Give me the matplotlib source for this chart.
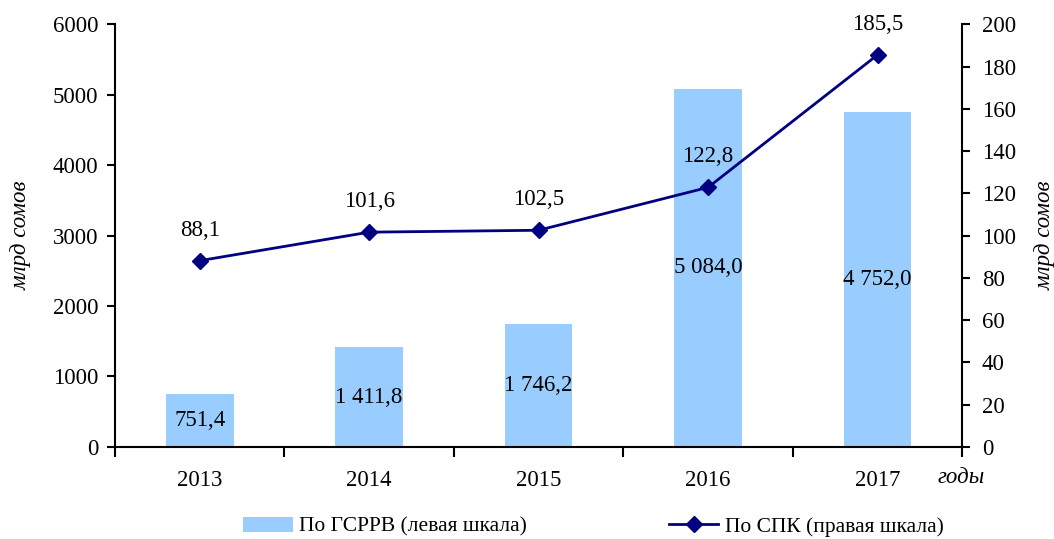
import numpy as np
import matplotlib.pyplot as plt
from matplotlib.ticker import MultipleLocator, FixedLocator

plt.rcParams['font.family'] = ['Liberation Serif', 'DejaVu Serif']

years = ['2013', '2014', '2015', '2016', '2017']
gsrrv = [751.4, 1411.8, 1746.2, 5084.0, 4752.0]   # left scale
spk = [88.1, 101.6, 102.5, 122.8, 185.5]           # right scale


def fmt(v):
    # "1 411,8" style
    s = f"{v:,.1f}".replace(",", " ").replace(".", ",")
    return s


fig = plt.figure(figsize=(10.54, 5.39), dpi=100)
ax = fig.add_axes([0.109, 0.171, 0.804, 0.784])
ax2 = ax.twinx()

x = np.arange(len(years))
fs = 16.5

bars = ax.bar(x, gsrrv, width=0.4, color='#99CCFF', label='По ГСРРВ (левая шкала)', zorder=1)
for xi, v in zip(x, gsrrv):
    ax.text(xi, v / 2, fmt(v), ha='center', va='center', fontsize=fs, color='black', zorder=3)

line, = ax2.plot(x, spk, color='#000080', marker='D', markersize=8, linewidth=2,
                 label='По СПК (правая шкала)', zorder=4)
for xi, v in zip(x, spk):
    ax2.annotate(fmt(v), (xi, v), xytext=(0, 22), textcoords='offset points',
                 ha='center', va='center', fontsize=fs)

ax.set_xlim(-0.5, len(years) - 0.5)
ax.set_ylim(0, 6000)
ax2.set_ylim(0, 200)
ax.yaxis.set_major_locator(MultipleLocator(1000))
ax2.yaxis.set_major_locator(MultipleLocator(20))

ax.set_xticks(x)
ax.set_xticklabels(years)
ax.xaxis.set_minor_locator(FixedLocator(np.arange(-0.5, len(years), 1.0)))
ax.tick_params(axis='x', which='major', length=0, pad=17, labelsize=fs)
ax.tick_params(axis='x', which='minor', length=7, width=1.5, direction='out')
ax.tick_params(axis='y', length=6, width=1.5, direction='out', pad=6, labelsize=fs)
ax2.tick_params(axis='y', length=6, width=1.5, direction='out', pad=8, labelsize=fs)

for a in (ax, ax2):
    a.spines['top'].set_visible(False)
ax.spines['right'].set_visible(False)
ax2.spines['left'].set_visible(False)
ax2.spines['bottom'].set_visible(False)
ax.spines['left'].set_linewidth(1.5)
ax.spines['bottom'].set_linewidth(1.5)
ax2.spines['right'].set_linewidth(1.5)

ax.set_ylabel('млрд сомов', fontsize=fs, style='italic')
ax.yaxis.set_label_coords(-0.098, 0.5)
ax2.set_ylabel('млрд сомов', fontsize=fs, style='italic', rotation=90, va='center')
ax2.yaxis.set_label_coords(1.098, 0.5)

fig.text(0.912, 0.115, 'годы', fontsize=fs, style='italic', va='center', ha='center')

ax.set_zorder(0)
ax2.set_zorder(1)
ax2.patch.set_visible(False)

fig.legend([bars, line], ['По ГСРРВ (левая шкала)', 'По СПК (правая шкала)'],
           loc='center', bbox_to_anchor=(0.563, 0.023), ncol=2, frameon=False,
           fontsize=15.5, handlelength=2.3, handletextpad=0.3, columnspacing=6.6)

fig.savefig('out.png', dpi=100)
